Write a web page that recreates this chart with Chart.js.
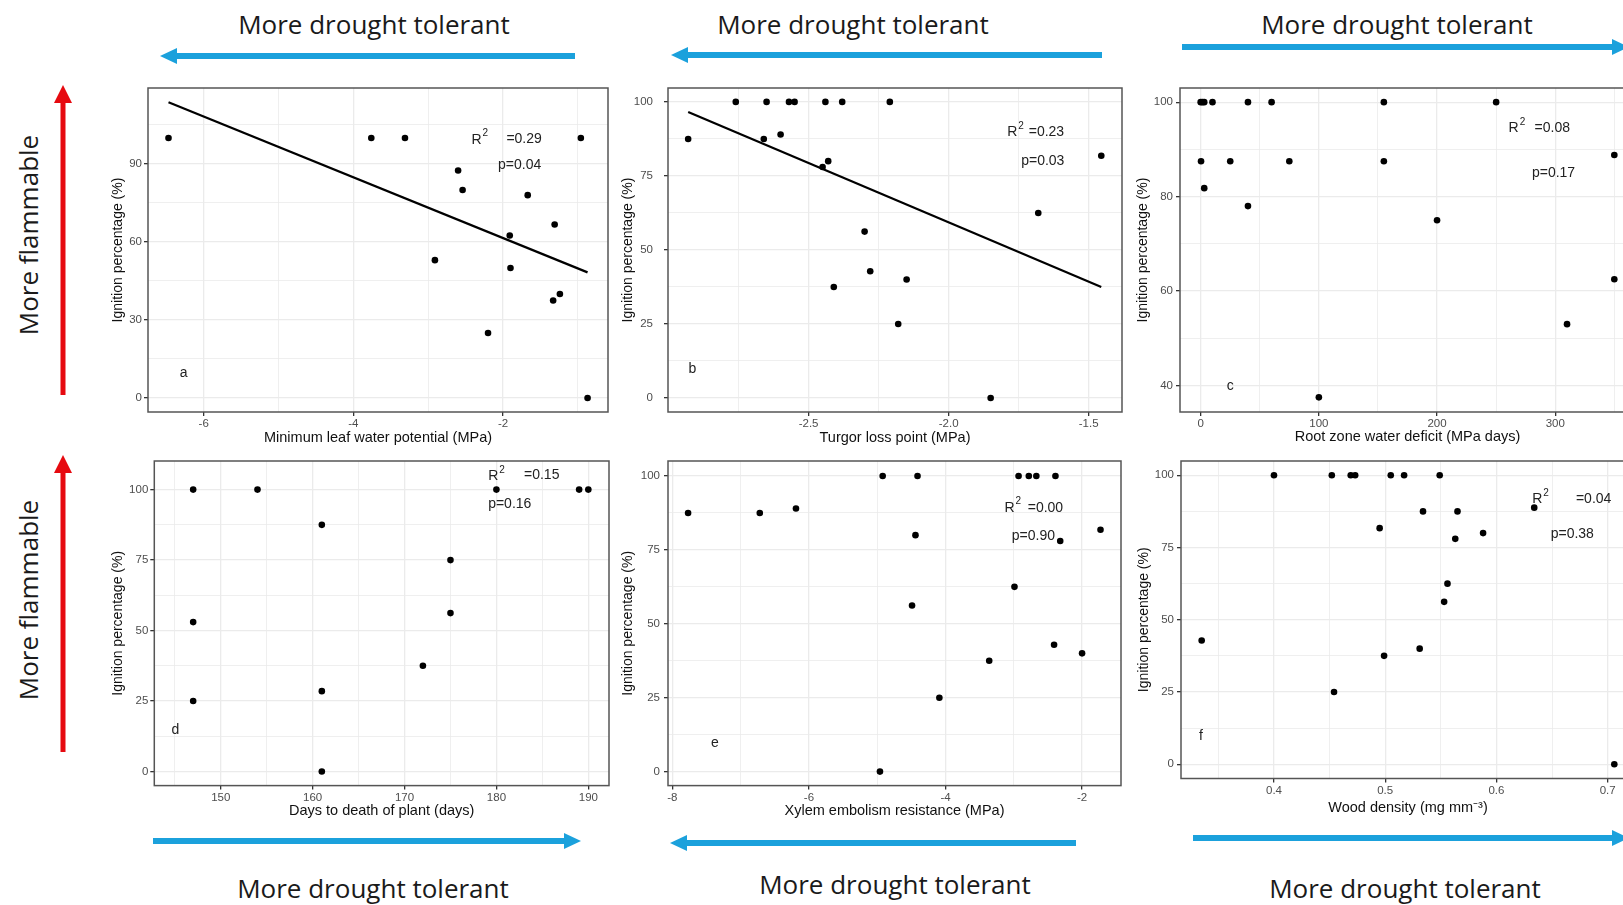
<!DOCTYPE html>
<html>
<head>
<meta charset="utf-8">
<script src="https://cdn.jsdelivr.net/npm/chart.js@4"></script>
<style>
  body { margin: 0; width: 1623px; height: 905px; overflow: hidden; background: #fff; position: relative; }
  canvas { position: absolute; }
  .lbl { position: absolute; font-family: 'Open Sans', sans-serif; font-size: 26px; line-height: 1; color: #1a1a1a; white-space: nowrap; transform: translate(-50%, -50%); }
  .rot { transform: translate(-50%, -50%) rotate(-90deg); }
</style>
</head>
<body>
<svg width="1623" height="905" style="position:absolute;left:0;top:0">
  <g stroke="#1ba1dc" stroke-width="6">
    <line x1="575" y1="56" x2="175" y2="56"/>
    <line x1="1102" y1="55" x2="686" y2="55"/>
    <line x1="1182" y1="47" x2="1613" y2="47"/>
    <line x1="153" y1="841" x2="566" y2="841"/>
    <line x1="1076" y1="843" x2="686" y2="843"/>
    <line x1="1193" y1="838" x2="1613" y2="838"/>
  </g>
  <g fill="#1ba1dc">
    <polygon points="160,56 177,48 177,64"/>
    <polygon points="671,55 688,47 688,63"/>
    <polygon points="1629,47 1612,39 1612,55"/>
    <polygon points="581,841 564,833 564,849"/>
    <polygon points="670,843 687,835 687,851"/>
    <polygon points="1629,838 1612,830 1612,846"/>
  </g>
  <g stroke="#e60a10" stroke-width="5">
    <line x1="63" y1="395" x2="63" y2="100"/>
    <line x1="63" y1="752" x2="63" y2="470"/>
  </g>
  <g fill="#e60a10">
    <polygon points="63,85 54,103 72,103"/>
    <polygon points="63,455 54,473 72,473"/>
  </g>
</svg>

<div class="lbl" style="left:374px;top:24px">More drought tolerant</div>
<div class="lbl" style="left:853px;top:24px">More drought tolerant</div>
<div class="lbl" style="left:1397px;top:24px">More drought tolerant</div>
<div class="lbl" style="left:373px;top:888px">More drought tolerant</div>
<div class="lbl" style="left:895px;top:884px">More drought tolerant</div>
<div class="lbl" style="left:1405px;top:888px">More drought tolerant</div>
<div class="lbl rot" style="left:28px;top:235px">More flammable</div>
<div class="lbl rot" style="left:28px;top:600px">More flammable</div>

<canvas id="pa"></canvas>
<canvas id="pb"></canvas>
<canvas id="pc"></canvas>
<canvas id="pd"></canvas>
<canvas id="pe"></canvas>
<canvas id="pf"></canvas>

<script>
// a: minimum leaf water potential
const aX = [-6.47, -3.76, -3.31, -0.96, -2.60, -2.54, -2.91, -1.67, -1.31, -1.91, -1.90, -1.33, -1.24, -2.20, -0.87];
const aY = [100, 100, 100, 100, 87.5, 80, 53, 78, 66.7, 62.5, 50, 37.5, 40, 25, 0];
const aFitX = [-6.47, -0.87];
const aFitY = [113.7, 48.3];
const aXTicks = [-6, -4, -2];
const aXMinor = [-5, -3, -1];
const aYTicks = [0, 30, 60, 90];
const aYMinor = [15, 45, 75, 105];
const aStats = ['0.29', '0.04'];

// b: turgor loss point
const bX = [-2.93, -2.76, -2.65, -2.57, -2.55, -2.44, -2.38, -2.21, -2.66, -2.60, -2.45, -2.43, -2.30, -2.28, -2.41, -2.15, -2.18, -1.85, -1.68, -1.455];
const bY = [87.5, 100, 100, 100, 100, 100, 100, 100, 87.5, 89, 78, 80, 56.2, 42.8, 37.5, 40, 25, 0, 62.5, 81.8];
const bFitX = [-2.93, -1.455];
const bFitY = [96.6, 37.5];
const bXTicks = [-2.5, -2.0, -1.5];
const bXMinor = [-2.75, -2.25, -1.75];
const bStats = ['0.23', '0.03'];

// c: root zone water deficit
const cX = [0, 1.5, 3, 10, 40, 60, 155, 250, 0.3, 25, 75, 155, 3, 40, 200, 100, 310, 350, 350];
const cY = [100, 100, 100, 100, 100, 100, 100, 100, 87.5, 87.5, 87.5, 87.5, 81.8, 78, 75, 37.5, 53, 62.5, 88.8];
const cXTicks = [0, 100, 200, 300];
const cXMinor = [50, 150, 250, 350];
const cYTicks = [40, 60, 80, 100];
const cYMinor = [50, 70, 90];
const cStats = ['0.08', '0.17'];

// d: days to death of plant
const dX = [147, 154, 180, 189, 190, 161, 175, 175, 147, 172, 161, 147, 161];
const dY = [100, 100, 100, 100, 100, 87.5, 75, 56.2, 53, 37.5, 28.5, 25, 0];
const dXTicks = [150, 160, 170, 180, 190];
const dXMinor = [145, 155, 165, 175, 185];
const dStats = ['0.15', '0.16'];

// e: xylem embolism resistance
const eX = [-7.77, -6.72, -6.19, -4.92, -4.41, -2.93, -2.78, -2.67, -2.39, -4.44, -2.32, -1.73, -2.99, -4.49, -2.41, -2.0, -3.36, -4.09, -4.96];
const eY = [87.5, 87.5, 89, 100, 100, 100, 100, 100, 100, 80, 78, 81.8, 62.5, 56.2, 42.9, 40, 37.5, 25, 0];
const eXTicks = [-8, -6, -4, -2];
const eXMinor = [-7, -5, -3];
const eStats = ['0.00', '0.90'];

// f: wood density
const fX = [0.335, 0.400, 0.452, 0.469, 0.473, 0.505, 0.517, 0.549, 0.534, 0.565, 0.495, 0.563, 0.588, 0.634, 0.556, 0.553, 0.531, 0.499, 0.454, 0.706];
const fY = [42.8, 100, 100, 100, 100, 100, 100, 100, 87.5, 87.5, 81.7, 78, 80, 88.8, 62.5, 56.2, 40, 37.5, 25, 0];
const fXTicks = [0.4, 0.5, 0.6, 0.7];
const fXMinor = [0.35, 0.45, 0.55, 0.65];
const fStats = ['0.04', '0.38'];

// shared 0-100 y axis
const pctTicks = [0, 25, 50, 75, 100];
const pctMinor = [12.5, 37.5, 62.5, 87.5];

Chart.defaults.font.family = "'Liberation Sans', Arial, sans-serif";

const frame = {
  id: 'frame',
  afterDraw(chart) {
    const { ctx, chartArea: a } = chart;
    ctx.save();
    ctx.strokeStyle = '#555';
    ctx.lineWidth = 1.5;
    ctx.strokeRect(a.left, a.top, a.right - a.left, a.bottom - a.top);
    ctx.restore();
  }
};

// text labels placed in data units; "R^2" gets a raised 2
const notes = {
  id: 'notes',
  afterDatasetsDraw(chart, args, opts) {
    const { ctx, scales } = chart;
    ctx.save();
    ctx.fillStyle = '#222';
    ctx.textBaseline = 'middle';
    opts.items.forEach(n => {
      const x = scales.x.getPixelForValue(n[1]);
      const y = scales.y.getPixelForValue(n[2]);
      const [base, sup] = n[0].split('^');
      ctx.font = "14px 'Liberation Sans', Arial, sans-serif";
      ctx.textAlign = n[3] || 'left';
      ctx.fillText(base, x, y);
      if (sup) {
        const w = ctx.measureText(base).width;
        ctx.font = "10px 'Liberation Sans', Arial, sans-serif";
        ctx.textAlign = 'left';
        ctx.fillText(sup, x + w + 1, y - 6);
      }
    });
    ctx.restore();
  }
};

function axis(major, minor, digits, pad) {
  return {
    type: 'linear',
    afterBuildTicks: s => { s.ticks = major.concat(minor).sort((p, q) => p - q).map(v => ({ value: v })); },
    ticks: {
      autoSkip: false, maxRotation: 0, padding: pad,
      color: '#4d4d4d', font: { size: 11.5 },
      callback: v => major.includes(v) ? v.toFixed(digits) : ''
    },
    grid: {
      color: '#ebebeb',
      lineWidth: c => major.includes(c.tick.value) ? 1.3 : 0.8,
      tickLength: 4,
      tickColor: c => major.includes(c.tick.value) ? '#333' : 'rgba(0,0,0,0)'
    },
    border: { display: false }
  };
}

function panel(p) {
  const [L, T, R, B] = p.box;
  // top padding larger than the half tick-label height (+ tick padding) Chart.js reserves
  const padT = 20, padR = 5;
  const cv = document.getElementById(p.id);
  cv.width = Math.round(R - L + p.yw + padR);
  cv.height = Math.round(B - T + padT + p.xh);
  cv.style.left = (L - p.yw) + 'px';
  cv.style.top = (T - padT) + 'px';

  const xAx = axis(p.xMajor, p.xMinor, p.xDigits, 1);
  xAx.min = p.xr[0]; xAx.max = p.xr[1];
  xAx.afterFit = s => { s.height = p.xh; };
  xAx.title = { display: true, text: p.xTitle, color: '#111', font: { size: 14.5 }, padding: 0 };

  const yAx = axis(p.yMajor, p.yMinor, 0, p.yPad);
  yAx.min = p.yr[0]; yAx.max = p.yr[1];
  yAx.afterFit = s => { s.width = p.yw; };
  yAx.title = { display: true, text: 'Ignition percentage (%)', color: '#111', font: { size: 14 }, padding: 0 };

  const datasets = [{
    data: p.xs.map((x, i) => ({ x, y: p.ys[i] })),
    pointRadius: 3.3, pointBackgroundColor: '#000', pointBorderWidth: 0, order: 1
  }];
  if (p.fitX) {
    datasets.push({
      type: 'line',
      data: p.fitX.map((x, i) => ({ x, y: p.fitY[i] })),
      borderColor: '#000', borderWidth: 2.2, pointRadius: 0, order: 2
    });
  }

  new Chart(cv, {
    type: 'scatter',
    data: { datasets },
    options: {
      responsive: false,
      animation: false,
      layout: { padding: { top: padT, right: padR, left: 0, bottom: 0 } },
      plugins: {
        legend: { display: false },
        tooltip: { enabled: false },
        notes: { items: p.notes }
      },
      scales: { x: xAx, y: yAx }
    },
    plugins: [frame, notes]
  });
}

panel({
  id: 'pa', box: [148.3, 88.3, 608.3, 412.3], yw: 38, xh: 35, yPad: 2,
  xr: [-6.744, -0.597], yr: [-5.4, 119.2],
  xMajor: aXTicks, xMinor: aXMinor, xDigits: 0, yMajor: aYTicks, yMinor: aYMinor,
  xTitle: 'Minimum leaf water potential (MPa)', xs: aX, ys: aY, fitX: aFitX, fitY: aFitY,
  notes: [['R^2', -2.422, 99.3], ['=' + aStats[0], -1.955, 99.6], ['p=' + aStats[1], -2.067, 89.7], ['a', -6.267, 9.6, 'center']]
});
panel({
  id: 'pb', box: [667.7, 88.3, 1121.7, 412.3], yw: 48, xh: 35, yPad: 11,
  xr: [-3.002, -1.381], yr: [-4.73, 104.7],
  xMajor: bXTicks, xMinor: bXMinor, xDigits: 1, yMajor: pctTicks, yMinor: pctMinor,
  xTitle: 'Turgor loss point (MPa)', xs: bX, ys: bY, fitX: bFitX, fitY: bFitY,
  notes: [['R^2', -1.791, 89.7], ['=' + bStats[0], -1.714, 89.7], ['p=' + bStats[1], -1.741, 79.9], ['b', -2.915, 9.8, 'center']]
});
panel({
  id: 'pc', box: [1179.6, 88.3, 1634.8, 412.3], yw: 45, xh: 34, yPad: 3,
  xr: [-17.5, 367.5], yr: [34.4, 103.0],
  xMajor: cXTicks, xMinor: cXMinor, xDigits: 0, yMajor: cYTicks, yMinor: cYMinor,
  xTitle: 'Root zone water deficit (MPa days)', xs: cX, ys: cY,
  notes: [['R^2', 260.5, 94.5], ['=' + cStats[0], 282.5, 94.5], ['p=' + cStats[1], 280.3, 85.0], ['c', 25.1, 39.8, 'center']]
});
panel({
  id: 'pd', box: [154.3, 460.7, 609, 785], yw: 44.3, xh: 34.4, yPad: 2,
  xr: [142.77, 192.25], yr: [-5.0, 110.15],
  xMajor: dXTicks, xMinor: dXMinor, xDigits: 0, yMajor: pctTicks, yMinor: pctMinor,
  xTitle: 'Days to death of plant (days)', xs: dX, ys: dY,
  notes: [['R^2', 179.1, 104.7], ['=' + dStats[0], 183.0, 105.1], ['p=' + dStats[1], 179.1, 95.0], ['d', 145.06, 14.8, 'center']]
});
panel({
  id: 'pe', box: [668.3, 460.7, 1121.7, 785], yw: 48, xh: 34.4, yPad: 4,
  xr: [-8.064, -1.43], yr: [-4.74, 105.08],
  xMajor: eXTicks, xMinor: eXMinor, xDigits: 0, yMajor: pctTicks, yMinor: pctMinor,
  xTitle: 'Xylem embolism resistance (MPa)', xs: eX, ys: eY,
  notes: [['R^2', -3.137, 89.3], ['=' + eStats[0], -2.796, 89.0], ['p=' + eStats[1], -3.03, 79.6], ['e', -7.376, 9.6, 'center']]
});
panel({
  id: 'pf', box: [1181, 460.7, 1635, 778.3], yw: 45, xh: 38.5, yPad: 3,
  xr: [0.3164, 0.7246], yr: [-4.95, 104.95],
  xMajor: fXTicks, xMinor: fXMinor, xDigits: 1, yMajor: pctTicks, yMinor: pctMinor,
  xTitle: 'Wood density (mg mm⁻³)', xs: fX, ys: fY,
  notes: [['R^2', 0.6322, 91.6], ['=' + fStats[0], 0.6715, 91.9], ['p=' + fStats[1], 0.6488, 79.8], ['f', 0.3344, 9.8, 'center']]
});
</script>
</body>
</html>
